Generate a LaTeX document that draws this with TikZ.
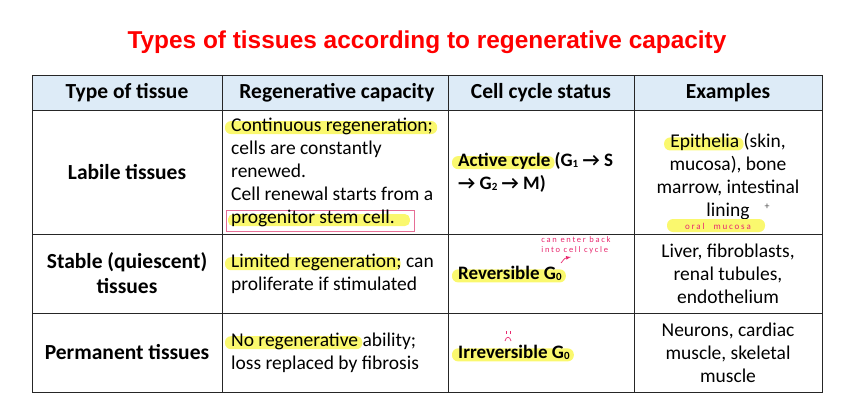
\documentclass[tikz,border=0pt]{standalone}
\usepackage{fontspec}
\setmainfont{Carlito}
\newfontfamily\titlefont{Liberation Sans}
\newfontfamily\penfont[LetterSpace=20]{Carlito}
\usetikzlibrary{positioning}

\definecolor{headblue}{RGB}{221,235,247}
\definecolor{hlyellow}{RGB}{250,248,110}
\definecolor{penpink}{RGB}{232,40,110}
\definecolor{boxpink}{RGB}{230,110,150}

\begin{document}
\begin{tikzpicture}[x=1pt, y=-1pt]
\def \top {75}
\def \head {110}
\def \bottom {392}
\def \left {32}
\def \right {822}

% marker highlight behind a word, drawn under the text
\def\hl#1{\tikz[baseline=(h.base)]{\node[inner sep=0pt, anchor=base] (h) {\phantom{#1}};
  \fill[hlyellow, rounded corners=6pt, overlay] ([xshift=-6pt, yshift=-3pt]h.base west)
    rectangle ([xshift=4pt, yshift=10pt]h.base east);
  \node[inner sep=0pt, anchor=base] at (h.base) {#1};}}
\def\hlbox#1{\tikz[baseline=(h.base)]{\node[inner sep=0pt, anchor=base] (h) {\phantom{#1}};
  \fill[hlyellow, rounded corners=5pt, overlay] ([xshift=-3pt, yshift=-3pt]h.base west)
    rectangle ([xshift=15pt, yshift=9pt]h.base east);
  \draw[boxpink, line width=0.8pt, overlay] ([xshift=-5pt, yshift=-8pt]h.base west)
    rectangle ([xshift=19pt, yshift=13pt]h.base east);
  \node[inner sep=0pt, anchor=base] at (h.base) {#1};}}
\def\sub#1{\raisebox{-1.5pt}{\fontsize{11pt}{11pt}\selectfont #1}}

\tikzset{
  grid/.style={line width=1pt, black!85},
  cell/.style={inner sep=0pt, font=\fontsize{19.5pt}{23pt}\selectfont},
  status/.style={cell, anchor=west, align=left, font=\fontsize{19pt}{23pt}\selectfont\bfseries},
  kind/.style={cell, align=center, font=\fontsize{21.5pt}{25pt}\selectfont\bfseries},
  pen/.style={inner sep=0pt, align=left, text=penpink, font=\penfont\fontsize{8.5pt}{10pt}\selectfont}
}

\node[font=\titlefont\fontsize{24.4pt}{28pt}\selectfont\bfseries, text=red] (title)
  at (427,42) {Types of tissues according to regenerative capacity};

% header and grid
\fill[headblue] (\left,\top) rectangle (\right,\head);
\foreach \y in {110,234,313}
{
  \draw[grid] (\left,\y) -- (\right,\y);
}
\foreach \x in {222,448,634}
{
  \draw[grid] (\x,\top) -- (\x,\bottom);
}
\draw[grid] (\left,\top) rectangle (\right,\bottom);

\node[kind] (h1) at (127,92.5) {Type of tissue};
\node[kind] (h2) at (337,92.5) {Regenerative capacity};
\node[kind] (h3) at (541,92.5) {Cell cycle status};
\node[kind] (h4) at (728,92.5) {Examples};

% labile
\node[kind] (t1) at (127,172) {Labile tissues};
\node[cell, anchor=west, align=left] (r1) at (231,172)
  {\hl{Continuous regeneration;}\\ cells are constantly\\ renewed.\\
   Cell renewal starts from a\\ \hlbox{progenitor stem cell.}};
\node[status] (c1) at (458,172)
  {\hl{Active cycle} (G\sub{1} → S\\ → G\sub{2} → M)};
\node[cell, align=center] (e1) at (728,176.5)
  {\hl{Epithelia} (skin,\\ mucosa), bone\\ marrow, intestinal\\ lining};

% stable
\node[kind] (t2) at (127,273.5) {Stable (quiescent)\\ tissues};
\node[cell, anchor=west, align=left] (r2) at (231,273.5)
  {\hl{Limited regeneration}; can\\ proliferate if stimulated};
\node[status] (c2) at (458,273.5) {\hl{Reversible G\sub{0}}};
\node[cell, align=center] (e2) at (728,273.5)
  {Liver, fibroblasts,\\ renal tubules,\\ endothelium};

% permanent
\node[kind] (t3) at (127,352.5) {Permanent tissues};
\node[cell, anchor=west, align=left] (r3) at (231,352.5)
  {\hl{No regenerative} ability;\\ loss replaced by fibrosis};
\node[status] (c3) at (458,352.5) {\hl{Irreversible G\sub{0}}};
\node[cell, align=center] (e3) at (728,352.5)
  {Neurons, cardiac\\ muscle, skeletal\\ muscle};

% pen notes
\node[pen] (back) at (576,245) {can enter back\\ into cell cycle};
\draw[penpink, line width=0.7pt, ->, >=latex] (561,263) .. controls (565,258) .. (571,257);
\node[font=\fontsize{10pt}{10pt}\selectfont, text=black!70] (plus) at (767,207) {+};
\fill[hlyellow, rounded corners=6pt] (667,219) rectangle (765,232);
\node[pen, font=\penfont\fontsize{9pt}{10pt}\selectfont] (oral) at (718,226) {oral\hspace{1em}mucosa};
\draw[penpink, line width=0.7pt] (506,331) -- (506,334) (510,331) -- (510,334);
\draw[penpink, line width=0.7pt] (505,341) .. controls (506,336) and (510,336) .. (511,341);

\useasboundingbox (0,0) rectangle (850,400);
\end{tikzpicture}
\end{document}
